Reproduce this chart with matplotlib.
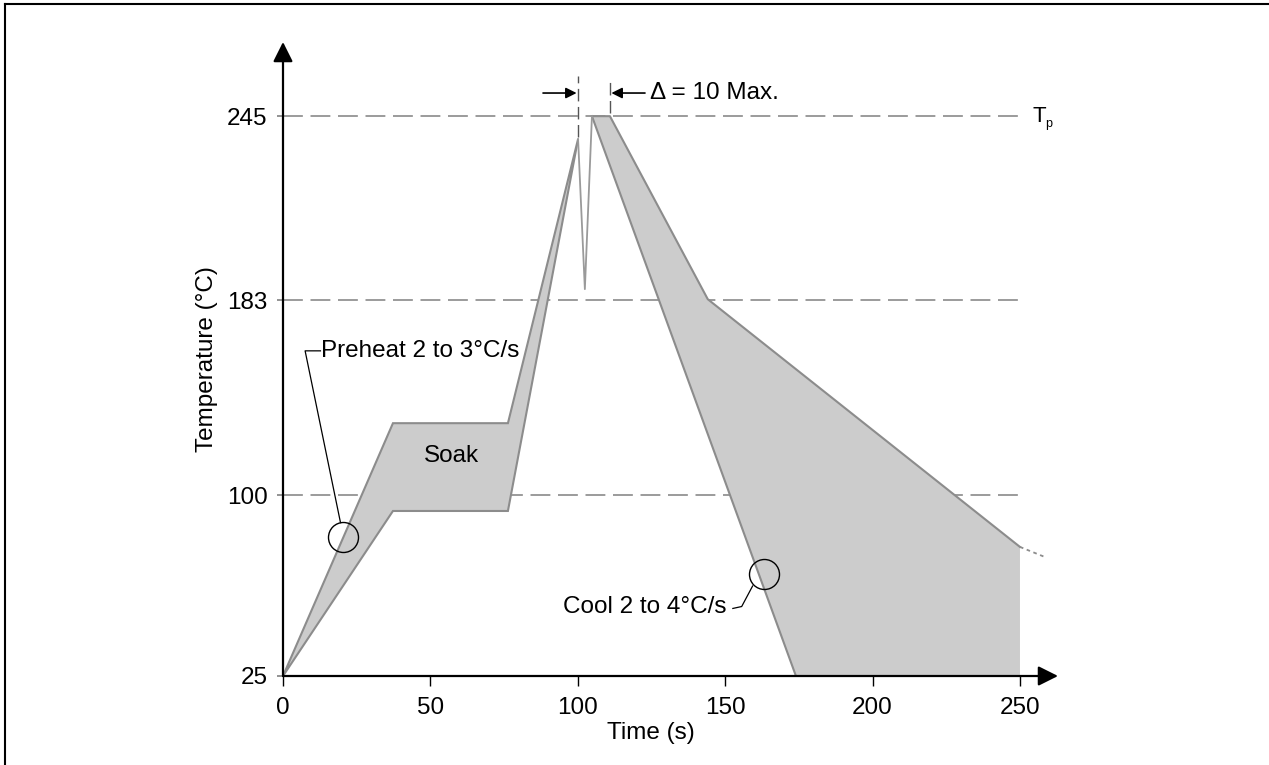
import numpy as np
import matplotlib
matplotlib.use("Agg")
import matplotlib.pyplot as plt
from matplotlib.lines import Line2D

plt.rcParams['font.family'] = ['Liberation Sans', 'DejaVu Sans']

# reference temperatures (dashed lines / y ticks)
temp_ticks = [25, 100, 183, 245]
time_ticks = [0, 50, 100, 150, 200, 250]

# heating band (preheat + soak + ramp)
heat_t = [0, 37.3, 76.3, 100.1, 76.3, 37.3]
heat_T = [25, 130.6, 130.6, 237.3, 93.4, 93.4]

# spike between the two peaks
spike_t = [100.1, 102.4, 104.8]
spike_T = [237.3, 186.7, 245]

# cooling band
cool_t = [104.8, 110.9, 144.1, 250, 250, 174.0]
cool_T = [245, 245, 183.3, 78.5, 25, 25]

# dotted continuation
tail_t = [250, 258.5]
tail_T = [78.5, 74.3]

# schematic (non-proportional) temperature axis
pos_knots = [0, 181, 376, 560]


def fwd(t):
    t = np.asarray(t, float)
    p = np.interp(t, temp_ticks, pos_knots)
    p = np.where(t > 245, 560 + (t - 245) * 184 / 62, p)
    p = np.where(t < 25, (t - 25) * 181 / 75, p)
    return p


def inv(p):
    p = np.asarray(p, float)
    t = np.interp(p, pos_knots, temp_ticks)
    t = np.where(p > 560, 245 + (p - 560) * 62 / 184, t)
    t = np.where(p < 0, 25 + p * 75 / 181, t)
    return t


FS = 17.5

fig = plt.figure(figsize=(12.69, 7.65), dpi=100)
ax = fig.add_axes([283 / 1269, 89 / 765, 775 / 1269, 634 / 765])
ax.set_yscale('function', functions=(fwd, inv))
ax.set_xlim(0, 262.9)
ax.set_ylim(25, 270)

for s in ax.spines.values():
    s.set_visible(False)

fill_c = '#cccccc'
edge_c = '#8c8c8c'

ax.fill(heat_t, heat_T, facecolor=fill_c, edgecolor=edge_c, lw=1.5, zorder=3)
ax.fill(cool_t, cool_T, facecolor=fill_c, edgecolor='none', zorder=3)
ax.plot(cool_t[:4], cool_T[:4], color=edge_c, lw=1.5, zorder=4)
ax.plot([cool_t[5], cool_t[0]], [cool_T[5], cool_T[0]], color=edge_c, lw=1.5, zorder=4)
ax.plot(spike_t, spike_T, color='#9a9a9a', lw=1.3, zorder=4)
ax.plot(tail_t, tail_T, color='#8c8c8c', lw=1.3, ls=(0, (2, 2)), zorder=4)

# horizontal dashed reference lines
for T in temp_ticks[1:]:
    ax.plot([0, 250], [T, T], color='#808080', lw=1.1, ls=(0, (13, 5)), zorder=2)

# vertical dashed markers of the peak window
ax.plot([100.1, 100.1], [238, 258.5], color='#555555', lw=1.0, ls=(0, (9, 4)), zorder=5)
ax.plot([110.9, 110.9], [246, 257.5], color='#555555', lw=1.0, ls=(0, (9, 4)), zorder=5)
ax.annotate('', xy=(99.6, 252.8), xytext=(88.2, 252.8),
            arrowprops=dict(arrowstyle='-|>', color='black', lw=1.2,
                            mutation_scale=16, shrinkA=0, shrinkB=0))
ax.annotate('', xy=(111.4, 252.8), xytext=(122.8, 252.8),
            arrowprops=dict(arrowstyle='-|>', color='black', lw=1.2,
                            mutation_scale=16, shrinkA=0, shrinkB=0))
ax.text(124.5, 252.8, 'Δ = 10 Max.', fontsize=FS, va='center', ha='left')

ax.text(254.4, 245, 'T', fontsize=16, va='center', ha='left')
ax.text(258.6, 242.2, 'p', fontsize=9, va='center', ha='left')

ax.text(57.3, 116.6, 'Soak', fontsize=FS, ha='center', va='center', zorder=6)

# preheat callout
ax.plot([20.4], [82.6], marker='o', ms=21.6, mfc='none', mec='black', mew=1.0, zorder=6)
ax.plot([12.7, 7.5, 19.5], [161.4, 161.4, 88.6], color='black', lw=0.9, zorder=6)
ax.text(12.9, 161.4, 'Preheat 2 to 3°C/s', fontsize=FS, ha='left', va='center')

# cool callout
ax.plot([163.2], [67.3], marker='o', ms=21.6, mfc='none', mec='black', mew=1.0, zorder=6)
ax.plot([152.6, 155.6, 159.3], [53.0, 53.8, 62.3], color='black', lw=0.9, zorder=6)
ax.text(150.5, 53.8, 'Cool 2 to 4°C/s', fontsize=FS, ha='right', va='center')

# axes with arrow heads
ax.annotate('', xy=(1.0, 0), xytext=(0, 0), xycoords='axes fraction',
            arrowprops=dict(arrowstyle='-|>', color='black', lw=1.6,
                            mutation_scale=30, shrinkA=0, shrinkB=0), zorder=7)
ax.annotate('', xy=(0, 1.0), xytext=(0, 0), xycoords='axes fraction',
            arrowprops=dict(arrowstyle='-|>', color='black', lw=1.6,
                            mutation_scale=30, shrinkA=0, shrinkB=0), zorder=7)

ax.set_xticks(time_ticks)
ax.set_xticklabels([str(v) for v in time_ticks])
ax.set_yticks(temp_ticks)
ax.set_yticklabels([str(v) for v in temp_ticks])
ax.tick_params(axis='x', length=7, width=1, direction='out', pad=8, labelsize=FS)
ax.tick_params(axis='y', length=4, width=1.2, color='#808080', direction='out', pad=7, labelsize=FS)

ax.set_xlabel('Time (s)', fontsize=FS, va='center')
ax.xaxis.set_label_coords((651 - 283) / 775, -(733 - 676) / 634)
ax.set_ylabel('Temperature (°C)', fontsize=FS, va='center')
ax.yaxis.set_label_coords(-(283 - 207) / 775, 0.5)

# partial frame around the figure
fig.add_artist(Line2D([5 / 1269, 1.0], [1 - 4 / 765, 1 - 4 / 765], color='black', lw=1.5,
                      transform=fig.transFigure))
fig.add_artist(Line2D([5 / 1269, 5 / 1269], [0, 1 - 4 / 765], color='black', lw=1.5,
                      transform=fig.transFigure))

fig.savefig('out.png', dpi=100)
